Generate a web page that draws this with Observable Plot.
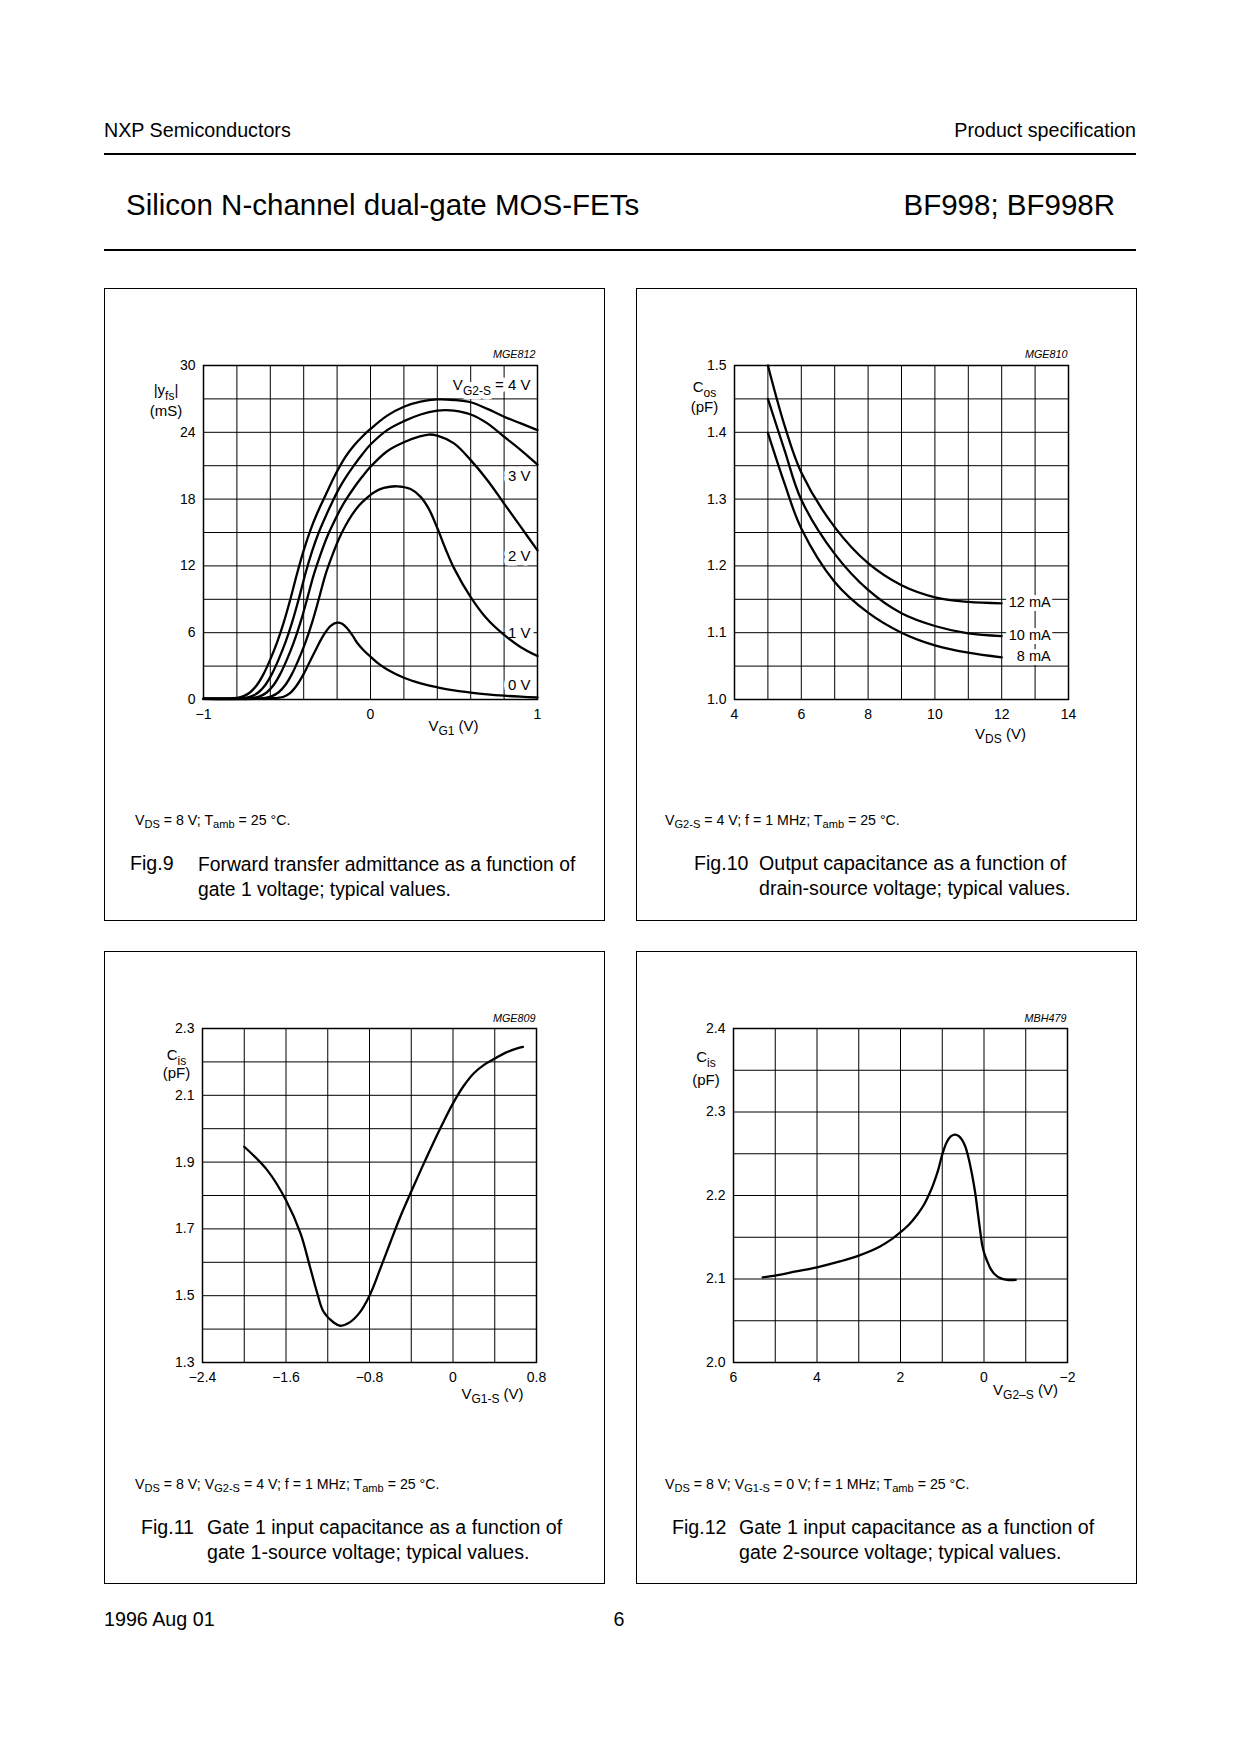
<!DOCTYPE html>
<html><head><meta charset="utf-8">
<script src="https://cdn.jsdelivr.net/npm/d3@7"></script>
<script src="https://cdn.jsdelivr.net/npm/@observablehq/plot@0.6"></script>
<style>
html,body{margin:0;padding:0;background:#fff;}
#page{position:relative;width:1240px;height:1754px;font-family:'Liberation Sans',Arial,Helvetica,sans-serif;color:#000;overflow:hidden;background:#fff;}
.abs{position:absolute;white-space:nowrap;line-height:1;}
.rule{position:absolute;background:#000;}
.box{position:absolute;border:1.3px solid #000;box-sizing:border-box;}
sub{font-size:0.78em;vertical-align:-0.3em;line-height:0;}
</style></head>
<body><div id="page"></div>
<script>
// ---------------- DATA ----------------
// Fig.9  |yfs| (mS) vs VG1 (V), one series per VG2-S
const fig9Series = ["4 V", "3 V", "2 V", "1 V", "0 V"];
const fig9X_4V = [-1.0, -0.8, -0.76, -0.72, -0.68, -0.64, -0.60, -0.56, -0.52, -0.48, -0.44, -0.40, -0.36, -0.32, -0.28, -0.24, -0.20, -0.15, -0.10, -0.05, 0.0, 0.1, 0.2, 0.3, 0.4, 0.5, 0.6, 0.7, 0.8, 0.9, 1.0];
const fig9Y_4V = [0.1, 0.15, 0.3, 0.65, 1.3, 2.3, 3.6, 5.1, 6.9, 9.0, 11.3, 13.4, 15.2, 16.7, 18.0, 19.3, 20.5, 21.8, 22.8, 23.6, 24.3, 25.5, 26.3, 26.75, 26.95, 26.9, 26.7, 26.1, 25.4, 24.8, 24.2];
const fig9X_3V = [-1.0, -0.75, -0.71, -0.67, -0.63, -0.59, -0.55, -0.51, -0.47, -0.43, -0.39, -0.35, -0.31, -0.27, -0.23, -0.19, -0.15, -0.10, -0.05, 0.0, 0.1, 0.2, 0.3, 0.4, 0.45, 0.5, 0.6, 0.7, 0.8, 0.9, 1.0];
const fig9Y_3V = [0.05, 0.15, 0.3, 0.65, 1.3, 2.3, 3.6, 5.1, 6.9, 9.0, 11.3, 13.3, 15.0, 16.4, 17.7, 18.9, 19.9, 21.0, 22.0, 22.9, 24.2, 25.0, 25.6, 25.95, 26.0, 25.95, 25.6, 24.8, 23.6, 22.4, 21.1];
const fig9X_2V = [-1.0, -0.70, -0.66, -0.62, -0.58, -0.54, -0.50, -0.46, -0.42, -0.38, -0.34, -0.30, -0.26, -0.22, -0.18, -0.14, -0.10, -0.05, 0.0, 0.1, 0.2, 0.3, 0.35, 0.4, 0.5, 0.6, 0.7, 0.8, 0.9, 1.0];
const fig9Y_2V = [0.05, 0.15, 0.3, 0.65, 1.3, 2.3, 3.6, 5.1, 6.9, 9.0, 11.2, 13.0, 14.6, 15.9, 17.1, 18.1, 19.0, 20.0, 20.9, 22.3, 23.1, 23.65, 23.8, 23.7, 23.0, 21.5, 19.7, 17.6, 15.5, 13.4];
const fig9X_1V = [-1.0, -0.63, -0.59, -0.55, -0.51, -0.47, -0.43, -0.39, -0.35, -0.31, -0.27, -0.23, -0.19, -0.15, -0.11, -0.07, -0.03, 0.02, 0.08, 0.16, 0.24, 0.3, 0.35, 0.4, 0.45, 0.5, 0.6, 0.7, 0.8, 0.9, 1.0];
const fig9Y_1V = [0.05, 0.15, 0.3, 0.65, 1.3, 2.3, 3.6, 5.1, 6.9, 9.0, 11.2, 12.9, 14.4, 15.6, 16.6, 17.4, 18.0, 18.6, 19.0, 19.15, 18.9, 18.2, 17.1, 15.4, 13.5, 11.8, 9.2, 7.2, 5.8, 4.7, 3.9];
const fig9X_0V = [-1.0, -0.6, -0.52, -0.48, -0.44, -0.40, -0.36, -0.32, -0.28, -0.24, -0.20, -0.17, -0.14, -0.11, -0.08, -0.04, 0.0, 0.05, 0.1, 0.2, 0.3, 0.4, 0.5, 0.6, 0.7, 0.8, 0.9, 1.0];
const fig9Y_0V = [0.05, 0.1, 0.25, 0.6, 1.3, 2.3, 3.5, 4.7, 5.8, 6.6, 6.9, 6.8, 6.4, 5.8, 5.1, 4.4, 3.85, 3.2, 2.7, 1.95, 1.45, 1.1, 0.82, 0.62, 0.46, 0.34, 0.25, 0.18];
const fig9TicksX = [-1, 0, 1];
const fig9TicksY = [0, 6, 12, 18, 24, 30];
const fig9LabelText = ["V_{G2-S} = 4 V", "3 V", "2 V", "1 V", "0 V"];
const fig9LabelY = [28.2, 20.1, 12.9, 6.0, 1.26];

// Fig.10  Cos (pF) vs VDS (V), one series per ID
const fig10Series = ["12 mA", "10 mA", "8 mA"];
const fig10X = [5, 5.5, 6, 7, 8, 9, 10, 11, 12];
const fig10Y_12mA = [1.5, 1.410, 1.340, 1.258, 1.204, 1.171, 1.153, 1.146, 1.144];
const fig10Y_10mA = [1.45, 1.373, 1.299, 1.218, 1.164, 1.129, 1.110, 1.099, 1.095];
const fig10Y_8mA = [1.399, 1.323, 1.256, 1.176, 1.130, 1.100, 1.081, 1.070, 1.063];
const fig10TicksX = [4, 6, 8, 10, 12, 14];
const fig10TicksY = [1.0, 1.1, 1.2, 1.3, 1.4, 1.5];

// Fig.11  Cis (pF) vs VG1-S (V)
const fig11X = [-2.0, -1.78, -1.6, -1.46, -1.37, -1.30, -1.24, -1.14, -1.08, -1.0, -0.9, -0.8, -0.7, -0.6, -0.5, -0.4, -0.3, -0.2, -0.1, 0.0, 0.1, 0.2, 0.3, 0.4, 0.5, 0.6, 0.67];
const fig11Y = [1.946, 1.876, 1.786, 1.686, 1.586, 1.507, 1.452, 1.419, 1.41, 1.418, 1.447, 1.50, 1.578, 1.66, 1.74, 1.812, 1.882, 1.95, 2.015, 2.076, 2.127, 2.166, 2.192, 2.21, 2.227, 2.239, 2.245];
const fig11TicksX = [-2.4, -1.6, -0.8, 0, 0.8];
const fig11TicksY = [1.3, 1.5, 1.7, 1.9, 2.1, 2.3];

// Fig.12  Cis (pF) vs VG2-S (V)
const fig12X = [5.3, 5.0, 4.5, 4.0, 3.45, 3.0, 2.49, 2.2, 2.0, 1.8, 1.6, 1.45, 1.3, 1.21, 1.1, 1.0, 0.89, 0.79, 0.69, 0.6, 0.53, 0.45, 0.37, 0.29, 0.21, 0.15, 0.09, 0.04, -0.01, -0.08, -0.15, -0.25, -0.39, -0.55, -0.76];
const fig12Y = [2.102, 2.104, 2.109, 2.114, 2.121, 2.128, 2.139, 2.148, 2.156, 2.165, 2.177, 2.188, 2.203, 2.214, 2.230, 2.249, 2.264, 2.271, 2.273, 2.271, 2.267, 2.259, 2.245, 2.226, 2.203, 2.180, 2.157, 2.140, 2.130, 2.121, 2.113, 2.106, 2.101, 2.099, 2.099];
const fig12TicksX = [6, 4, 2, 0, -2];
const fig12TicksY = [2.0, 2.1, 2.2, 2.3, 2.4];

// ---------------- PAGE ----------------
const FONT = "'Liberation Sans', Arial, Helvetica, sans-serif";
const page = document.getElementById("page");
function txt(html, x, baseline, size, anchor = "start") {
  const d = document.createElement("div");
  d.className = "abs";
  d.innerHTML = html;
  d.style.fontSize = size + "px";
  d.style.top = (baseline - 0.8465 * size) + "px";
  if (anchor === "end") d.style.right = (1240 - x) + "px";
  else if (anchor === "middle") { d.style.left = x + "px"; d.style.transform = "translateX(-50%)"; }
  else d.style.left = x + "px";
  page.appendChild(d);
}
function rule(x, y, w, h) {
  const d = document.createElement("div"); d.className = "rule";
  d.style.cssText += `left:${x}px;top:${y}px;width:${w}px;height:${h}px;`;
  page.appendChild(d);
}
function box(x, y, w, h) {
  const d = document.createElement("div"); d.className = "box";
  d.style.cssText += `left:${x}px;top:${y}px;width:${w}px;height:${h}px;`;
  page.appendChild(d);
}

txt("NXP Semiconductors", 104, 138, 19.7);
txt("Product specification", 1136, 138, 19.7, "end");
rule(104, 152.5, 1032, 2.5);
txt("Silicon N-channel dual-gate MOS-FETs", 126, 215, 29.5);
txt("BF998; BF998R", 1115, 215, 29.5, "end");
rule(104, 249, 1032, 2);
box(104, 288, 501, 633);
box(636, 288, 501, 633);
box(104, 951, 501, 633);
box(636, 951, 501, 633);

const CAP = 19.6, COND = 14.2;
txt("V<sub>DS</sub> = 8 V; T<sub>amb</sub> = 25 °C.", 135, 825, COND);
txt("Fig.9", 130, 871, CAP);
txt("Forward transfer admittance as a function of", 198, 871, 19.3);
txt("gate 1 voltage; typical values.", 198, 896, 19.3);

txt("V<sub>G2-S</sub> = 4 V; f = 1 MHz; T<sub>amb</sub> = 25 °C.", 665, 825, COND);
txt("Fig.10", 694, 871, CAP);
txt("Output capacitance as a function of", 759, 871, CAP);
txt("drain-source voltage; typical values.", 759, 896, CAP);

txt("V<sub>DS</sub> = 8 V; V<sub>G2-S</sub> = 4 V; f = 1 MHz; T<sub>amb</sub> = 25 °C.", 135, 1489, COND);
txt("Fig.11", 141, 1535, CAP);
txt("Gate 1 input capacitance as a function of", 207, 1535, CAP);
txt("gate 1-source voltage; typical values.", 207, 1560, CAP);

txt("V<sub>DS</sub> = 8 V; V<sub>G1-S</sub> = 0 V; f = 1 MHz; T<sub>amb</sub> = 25 °C.", 665, 1489, COND);
txt("Fig.12", 672, 1535, CAP);
txt("Gate 1 input capacitance as a function of", 739, 1535, CAP);
txt("gate 2-source voltage; typical values.", 739, 1560, CAP);

txt("1996 Aug 01", 104, 1627, 19.7);
txt("6", 619, 1627, 19.7, "middle");

// ---------------- CHARTS ----------------
const minus = d => d === 0 ? "0" : (d < 0 ? "\u2212" : "") + Math.abs(d);
const one = d3.format(".1f");
function subs(svg) {
  const NS = "http://www.w3.org/2000/svg";
  svg.querySelectorAll("text").forEach(t => {
    const s = t.textContent;
    if (!s.includes("_{")) return;
    const parts = s.split(/_\{([^}]*)\}/);
    while (t.firstChild) t.removeChild(t.firstChild);
    let down = false;
    parts.forEach((p, i) => {
      if (p === "") return;
      const ts = document.createElementNS(NS, "tspan");
      if (i % 2 === 1) { ts.setAttribute("dy", 4.5); ts.setAttribute("font-size", "0.8em"); down = true; }
      else if (down) { ts.setAttribute("dy", -4.5); down = false; }
      ts.textContent = p;
      t.appendChild(ts);
    });
  });
  return svg;
}
function table(names, xs, ys) {
  return names.flatMap((n, k) => xs[k].map((x, i) => ({series: n, x, y: ys[k][i]})));
}
function chart({xDomain, yDomain, gridX, gridY, ticksX, ticksY, fmtX, fmtY, ml, marks}) {
  return subs(Plot.plot({
    width: 500, height: 460,
    marginLeft: ml, marginRight: 500 - ml - 334, marginTop: 77, marginBottom: 49,
    style: {background: "none", overflow: "visible", fontFamily: FONT, fontSize: "14px", color: "#000"},
    x: {domain: xDomain, label: null},
    y: {domain: yDomain, label: null},
    marks: [
      Plot.gridX(gridX, {stroke: "#000", strokeOpacity: 1, strokeWidth: 1}),
      Plot.gridY(gridY, {stroke: "#000", strokeOpacity: 1, strokeWidth: 1}),
      Plot.frame({stroke: "#000", strokeWidth: 1.5}),
      ...marks,
      Plot.axisX(ticksX, {tickSize: 0, tickPadding: 10, tickFormat: fmtX, label: null, fontSize: 14}),
      Plot.axisY(ticksY, {tickSize: 0, tickPadding: 8, tickFormat: fmtY, label: null, fontSize: 14})
    ]
  }));
}
function mount(svg, left, top) {
  const d = document.createElement("div");
  d.style.cssText = `position:absolute;left:${left}px;top:${top}px;width:500px;`;
  d.appendChild(svg);
  page.appendChild(d);
}
const lbl = (s, anchor, dx, dy, o = {}) => Plot.text([s], {frameAnchor: anchor, text: d => d, dx, dy, fontSize: 15, textAnchor: "middle", ...o});
const code = (s, dx, dy) => Plot.text([s], {frameAnchor: "top-right", text: d => d, dx, dy, textAnchor: "end", fontSize: 10.8, fontStyle: "italic"});
const curveStyle = {x: "x", y: "y", z: "series", curve: "catmull-rom", stroke: "#000", strokeWidth: 2.3};
const halo = {stroke: "white", paintOrder: "stroke", fill: "#000"};

// Fig.9
const fig9Data = table(fig9Series,
  [fig9X_4V, fig9X_3V, fig9X_2V, fig9X_1V, fig9X_0V],
  [fig9Y_4V, fig9Y_3V, fig9Y_2V, fig9Y_1V, fig9Y_0V]);
mount(chart({
  xDomain: [-1, 1], yDomain: [0, 30],
  gridX: d3.ticks(-1, 1, 10), gridY: d3.range(0, 31, 3),
  ticksX: fig9TicksX, ticksY: fig9TicksY, fmtX: minus, fmtY: d => String(d), ml: 99,
  marks: [
    Plot.text(fig9LabelText, {frameAnchor: "right", y: (d, i) => fig9LabelY[i], text: d => d, textAnchor: "end", dx: -7, fontSize: 15, ...halo, strokeWidth: 9}),
    Plot.line(fig9Data, curveStyle),
    lbl("|y_{fs}|", "top-left", -37.5, 19),
    lbl("(mS)", "top-left", -37.5, 40),
    lbl("V_{G1} (V)", "bottom", 83, 31),
    code("MGE812", -2, -15)
  ]
}), 104, 288);

// Fig.10
const fig10Data = table(fig10Series, [fig10X, fig10X, fig10X], [fig10Y_12mA, fig10Y_10mA, fig10Y_8mA]);
const fig10Ends = fig10Series.map(s => fig10Data.filter(d => d.series === s).at(-1));
mount(chart({
  xDomain: [4, 14], yDomain: [1.0, 1.5],
  gridX: d3.range(4, 15, 1), gridY: d3.ticks(1, 1.5, 10),
  ticksX: fig10TicksX, ticksY: fig10TicksY, fmtX: d => String(d), fmtY: one, ml: 98,
  marks: [
    Plot.text(fig10Ends, {x: "x", y: "y", text: "series", textAnchor: "end", dx: 49, dy: -1, fontSize: 14.5, ...halo, strokeWidth: 8}),
    Plot.line(fig10Data, curveStyle),
    lbl("C_{os}", "top-left", -30, 16),
    lbl("(pF)", "top-left", -30, 36),
    lbl("V_{DS} (V)", "bottom", 99, 39),
    code("MGE810", -1, -15)
  ]
}), 636, 288);

// Fig.11
const fig11Data = table(["Cis"], [fig11X], [fig11Y]);
mount(chart({
  xDomain: [-2.4, 0.8], yDomain: [1.3, 2.3],
  gridX: d3.range(-6, 3).map(i => i * 0.4), gridY: d3.ticks(1.3, 2.3, 10),
  ticksX: fig11TicksX, ticksY: fig11TicksY, fmtX: minus, fmtY: one, ml: 98,
  marks: [
    Plot.line(fig11Data, curveStyle),
    lbl("C_{is}", "top-left", -26, 21),
    lbl("(pF)", "top-left", -26, 39),
    lbl("V_{G1-S} (V)", "bottom", 123, 36),
    code("MGE809", -1, -14)
  ]
}), 104, 951);

// Fig.12
const fig12Data = table(["Cis"], [fig12X], [fig12Y]);
mount(chart({
  xDomain: [6, -2], yDomain: [2.0, 2.4],
  gridX: d3.range(-2, 7), gridY: d3.ticks(2, 2.4, 8),
  ticksX: fig12TicksX, ticksY: fig12TicksY, fmtX: minus, fmtY: one, ml: 97,
  marks: [
    Plot.line(fig12Data, curveStyle),
    lbl("C_{is}", "top-left", -27.5, 23),
    lbl("(pF)", "top-left", -27.5, 46),
    lbl("V_{G2\u2013S} (V)", "bottom", 125, 32),
    code("MBH479", -1, -14)
  ]
}), 636, 951);
</script></body></html>
